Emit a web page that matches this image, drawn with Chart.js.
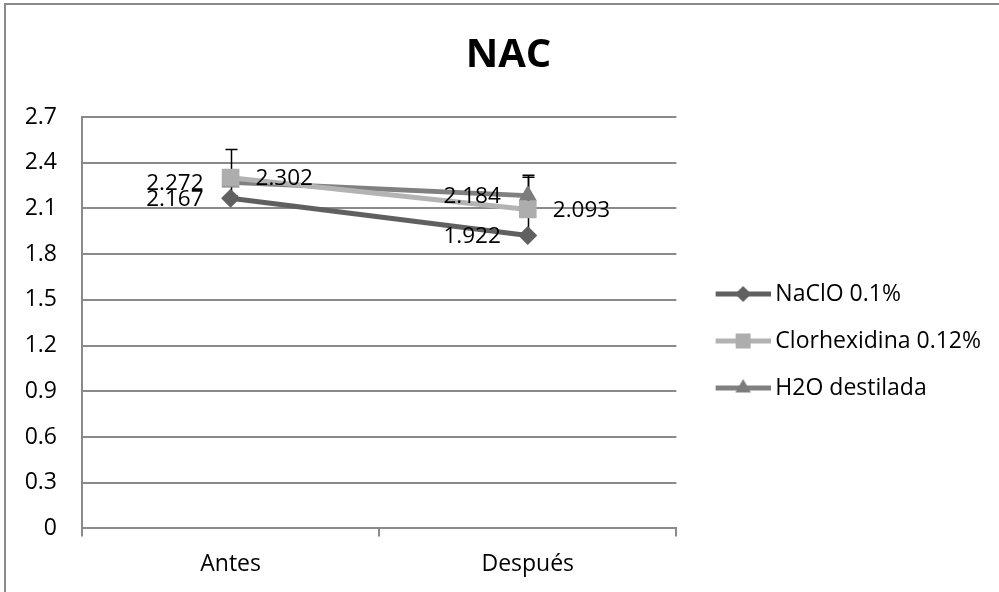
<!DOCTYPE html>
<html><head><meta charset="utf-8">
<script src="https://cdn.jsdelivr.net/npm/chart.js@4.4.0/dist/chart.umd.min.js"></script>
<style>
html,body{margin:0;padding:0;background:#fff;overflow:hidden;}
#wrap{position:relative;width:999px;height:592px;overflow:hidden;background:#fff;}
#frame{position:absolute;left:4px;top:3px;width:1000px;height:600px;border-left:2px solid #8a8a8a;border-top:2px solid #8a8a8a;pointer-events:none;}
canvas{position:absolute;left:0;top:0;}
</style></head><body>
<div id="wrap"><canvas id="c" width="999" height="592"></canvas><div id="frame"></div></div>
<script>
// ---- data ----
const chartTitle = 'NAC';
const categories = ['Antes', 'Después'];
const seriesNames = ['NaClO 0.1%', 'Clorhexidina 0.12%', 'H2O destilada'];
const naclo = [2.167, 1.922];
const clorhexidina = [2.302, 2.093];
const h2o = [2.272, 2.184];
const clorhexidinaErrPlus = [0.185, 0.225];
const clorhexidinaErrMinus = [0.12, 0.18];
const h2oErrPlus = [0, 0.12];
const h2oErrMinus = [0, 0.12];
const yTicks = [0, 0.3, 0.6, 0.9, 1.2, 1.5, 1.8, 2.1, 2.4, 2.7];
const yTickLabels = ['0', '0.3', '0.6', '0.9', '1.2', '1.5', '1.8', '2.1', '2.4', '2.7'];

// ---- styles ----
const FONT = "'Open Sans', 'DejaVu Sans', sans-serif";
const GRID = '#8a8a8a';
const styles = [
  {line: '#606060', marker: '#606060', shape: 'rectRot', r: 9.5, side: 'left'},
  {line: '#b3b3b3', marker: '#adadad', shape: 'rect', r: 12.5, side: 'right'},
  {line: '#808080', marker: '#7c7c7c', shape: 'triangle', r: 10.5, side: 'left'}
];

// legend icon: 77px canvas drawn centred on a 63.5px legend box
function makeIcon(st) {
  const c = document.createElement('canvas');
  c.width = 77; c.height = 24;
  const ctx = c.getContext('2d');
  ctx.strokeStyle = st.line; ctx.lineWidth = 5;
  ctx.beginPath(); ctx.moveTo(22, 12); ctx.lineTo(77, 12); ctx.stroke();
  ctx.fillStyle = st.marker; ctx.strokeStyle = st.marker;
  Chart.helpers.drawPoint(ctx, {pointStyle: st.shape, radius: st.r * 0.85, borderWidth: 0, rotation: 0}, 49.5, 12);
  return c;
}
const icons = styles.map(makeIcon);

const errorBarPlugin = {
  id: 'errorBars',
  beforeDatasetsDraw(chart) {
    const ctx = chart.ctx, y = chart.scales.y;
    ctx.save();
    ctx.strokeStyle = '#000'; ctx.lineWidth = 1.5;
    chart.data.datasets.forEach((ds, di) => {
      if (!ds.errPlus) return;
      const meta = chart.getDatasetMeta(di);
      ds.data.forEach((v, i) => {
        if (!ds.errPlus[i] && !ds.errMinus[i]) return;
        const px = Math.round(meta.data[i].x) + 0.5;
        const t = y.getPixelForValue(v + ds.errPlus[i]), b = y.getPixelForValue(v - ds.errMinus[i]);
        ctx.beginPath();
        ctx.moveTo(px, t); ctx.lineTo(px, b);
        ctx.moveTo(px - 6, t); ctx.lineTo(px + 6, t);
        ctx.moveTo(px - 6, b); ctx.lineTo(px + 6, b);
        ctx.stroke();
      });
    });
    ctx.restore();
  }
};

const labelPlugin = {
  id: 'valueLabels',
  afterDatasetsDraw(chart) {
    const ctx = chart.ctx;
    ctx.save();
    ctx.font = '22.5px ' + FONT;
    ctx.fillStyle = '#000';
    ctx.textBaseline = 'middle';
    chart.data.datasets.forEach((ds, di) => {
      const meta = chart.getDatasetMeta(di);
      const side = styles[di].side;
      ds.data.forEach((v, i) => {
        const p = meta.data[i];
        ctx.textAlign = side === 'left' ? 'right' : 'left';
        const x = side === 'left' ? p.x - 27 : p.x + 25;
        ctx.fillText(String(v), x, p.y + 1);
      });
    });
    ctx.restore();
  }
};

const seriesData = [naclo, clorhexidina, h2o];
const seriesErrPlus = [null, clorhexidinaErrPlus, h2oErrPlus];
const seriesErrMinus = [null, clorhexidinaErrMinus, h2oErrMinus];

new Chart(document.getElementById('c'), {
  type: 'line',
  data: {
    labels: categories,
    datasets: seriesNames.map((name, i) => ({
      label: name,
      data: seriesData[i],
      errPlus: seriesErrPlus[i],
      errMinus: seriesErrMinus[i],
      borderColor: styles[i].line,
      backgroundColor: styles[i].marker,
      borderWidth: 5,
      tension: 0,
      fill: false,
      pointStyle: styles[i].shape,
      pointRadius: styles[i].r,
      pointHoverRadius: styles[i].r,
      pointBackgroundColor: styles[i].marker,
      pointBorderColor: styles[i].marker,
      pointBorderWidth: 0
    }))
  },
  options: {
    responsive: false,
    animation: false,
    devicePixelRatio: 1,
    layout: {padding: {left: 26, right: 8, top: 0, bottom: 0}},
    plugins: {
      title: {
        display: true, text: chartTitle, color: '#000',
        font: {family: "'Liberation Sans Narrow', 'Open Sans', sans-serif", size: 40, weight: 'bold'},
        padding: {top: 32, bottom: 37}
      },
      legend: {
        position: 'right',
        maxWidth: 420,
        title: {display: true, text: ' ', font: {size: 10, lineHeight: 1}, padding: {top: 80, bottom: 0}},
        labels: {
          usePointStyle: true,
          pointStyleWidth: 63.5,
          padding: 24,
          color: '#000',
          font: {family: FONT, size: 23},
          generateLabels(chart) {
            const items = Chart.defaults.plugins.legend.labels.generateLabels(chart);
            items.forEach((it, i) => { it.pointStyle = icons[i]; it.lineWidth = 0; });
            return items;
          }
        }
      },
      tooltip: {enabled: false}
    },
    scales: {
      x: {
        type: 'category',
        offset: true,
        grid: {offset: true, drawOnChartArea: false, drawTicks: true, tickLength: 8, color: GRID, lineWidth: 2},
        border: {display: true, color: GRID, width: 2},
        ticks: {padding: 14, color: '#000', font: {family: FONT, size: 23}}
      },
      y: {
        min: 0, max: 2.7,
        afterBuildTicks(scale) { scale.ticks = yTicks.map(v => ({value: v})); },
        afterFit(scale) { scale.width = 56; },
        grid: {color: GRID, lineWidth: 2, drawTicks: false},
        border: {display: true, color: GRID, width: 2},
        ticks: {padding: 25, color: '#000', font: {family: FONT, size: 23},
          callback(v, i) { return yTickLabels[i]; }}
      }
    }
  },
  plugins: [errorBarPlugin, labelPlugin]
});
</script>
</body></html>
